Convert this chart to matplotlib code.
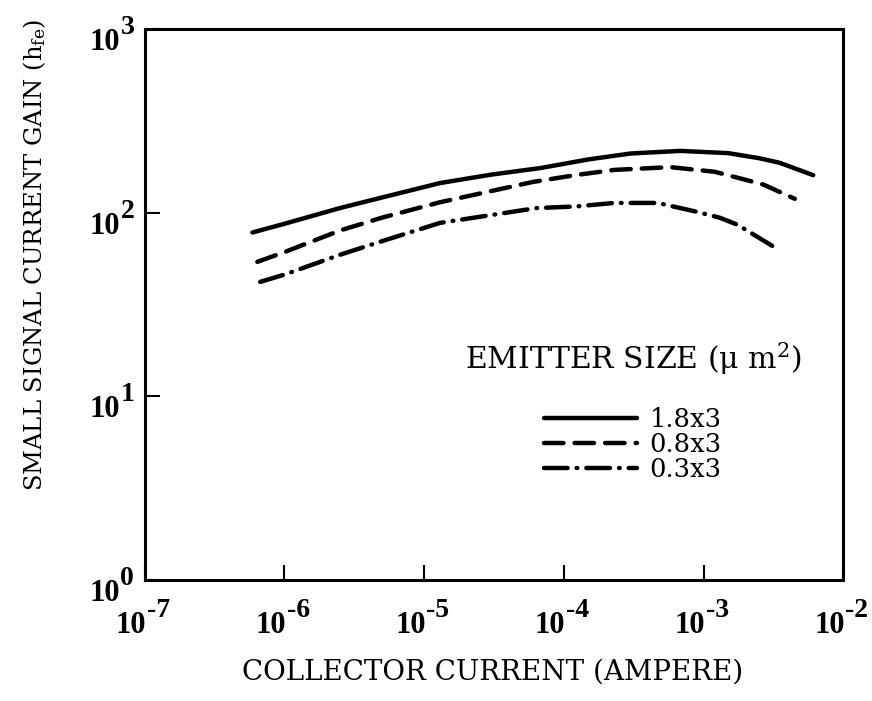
import numpy as np
import matplotlib
matplotlib.use("Agg")
import matplotlib.pyplot as plt
from matplotlib.ticker import FixedLocator, NullFormatter

# ---------------- SETTINGS ----------------
plt.rcParams['font.family'] = ['DejaVu Serif']
plt.rcParams['mathtext.fontset'] = 'dejavuserif'
plt.rcParams['lines.scale_dashes'] = False
TICK_FONT = 'Liberation Serif'

# -------- DATA --------
ic_18 = [5.9e-7, 1e-6, 2.5e-6, 5e-6, 1.3e-5, 3e-5, 6.8e-5, 1.5e-4, 3e-4, 6.8e-4,
         1.5e-3, 2.5e-3, 3.5e-3, 6.1e-3]
hfe_18 = [78, 87, 106, 121, 145, 161, 175, 195, 210, 217, 211, 198, 187, 160]

ic_08 = [6.4e-7, 1e-6, 2.5e-6, 5e-6, 1.3e-5, 3e-5, 6e-5, 1.2e-4, 2.3e-4, 5.8e-4,
         1.2e-3, 2e-3, 2.7e-3, 4.5e-3]
hfe_08 = [54, 61, 80, 94, 114, 131, 147, 160, 171, 177, 167, 151, 142, 119]

ic_03 = [6.7e-7, 1e-6, 2.5e-6, 5e-6, 1.3e-5, 3e-5, 6.4e-5, 1.2e-4, 2.3e-4, 4.7e-4,
         9e-4, 1.3e-3, 1.75e-3, 3.1e-3]
hfe_03 = [42, 46, 59, 70, 88, 97, 106, 108, 113, 113, 101, 94, 86, 66]

sizes = ["1.8x3", "0.8x3", "0.3x3"]
x_decades = [-7, -6, -5, -4, -3, -2]
y_decades = [0, 1, 2, 3]
# --------------------------------------------

fig = plt.figure(figsize=(8.72, 7.01), dpi=100)
ax = fig.add_axes([0.166, 0.1726, 0.801, 0.786])

lw = 3.2
ax.plot(ic_18, hfe_18, color='black', lw=lw, solid_capstyle='round',
        solid_joinstyle='round', label=sizes[0])
ax.plot(ic_08, hfe_08, color='black', lw=lw, dashes=(14, 8),
        dash_capstyle='round', dash_joinstyle='round', label=sizes[1])
ax.plot(ic_03, hfe_03, color='black', lw=lw, dashes=(17, 6.5, 0.5, 6.5),
        dash_capstyle='round', dash_joinstyle='round', label=sizes[2])

ax.set_xscale('log')
ax.set_yscale('log')
ax.set_xlim(1e-7, 1e-2)
ax.set_ylim(1e0, 1e3)

ax.xaxis.set_major_locator(FixedLocator([10.0**d for d in x_decades]))
ax.yaxis.set_major_locator(FixedLocator([10.0**d for d in y_decades]))
ax.xaxis.set_minor_locator(FixedLocator([]))
ax.yaxis.set_minor_locator(FixedLocator([]))
ax.xaxis.set_major_formatter(NullFormatter())
ax.yaxis.set_major_formatter(NullFormatter())

ax.tick_params(axis='both', which='major', direction='in', length=11, width=1.5,
               top=False, right=False)

for s in ax.spines.values():
    s.set_linewidth(2.2)

# -------- DECADE LABELS (10 with a big exponent, as in the original) --------
for d in x_decades:
    ax.annotate("10", xy=(10.0**d, 0), xycoords=('data', 'axes fraction'),
                xytext=(1, -38), textcoords='offset points', ha='right',
                va='baseline', fontsize=22, family=TICK_FONT, weight='bold')
    ax.annotate(str(d), xy=(10.0**d, 0), xycoords=('data', 'axes fraction'),
                xytext=(1.5, -26.5), textcoords='offset points', ha='left',
                va='baseline', fontsize=20, family=TICK_FONT, weight='bold')
for d in y_decades:
    ax.annotate("10", xy=(0, 10.0**d), xycoords=('axes fraction', 'data'),
                xytext=(-18, -15), textcoords='offset points', ha='right',
                va='baseline', fontsize=22, family=TICK_FONT, weight='bold')
    ax.annotate(str(d), xy=(0, 10.0**d), xycoords=('axes fraction', 'data'),
                xytext=(-17.5, -3.5), textcoords='offset points', ha='left',
                va='baseline', fontsize=20, family=TICK_FONT, weight='bold')

fig.text(0.565, 0.041, "COLLECTOR CURRENT (AMPERE)", fontsize=20,
         ha='center', va='center')
fig.text(0.04, 0.636, r"SMALL SIGNAL CURRENT GAIN (h$_{\mathrm{fe}}$)", fontsize=17.5,
         rotation=90, ha='center', va='center')

leg = ax.legend(loc='upper left', bbox_to_anchor=(0.458, 0.435), frameon=False,
                title=r"EMITTER SIZE ($\mathrm{\mu}$ m$^{\mathregular{2}}$)", title_fontsize=21.5,
                fontsize=18.5, handlelength=3.6, handletextpad=0.5,
                labelspacing=0.0, borderpad=0, borderaxespad=0)
leg._legend_box.sep = 22

fig.savefig("out.png", dpi=100)
